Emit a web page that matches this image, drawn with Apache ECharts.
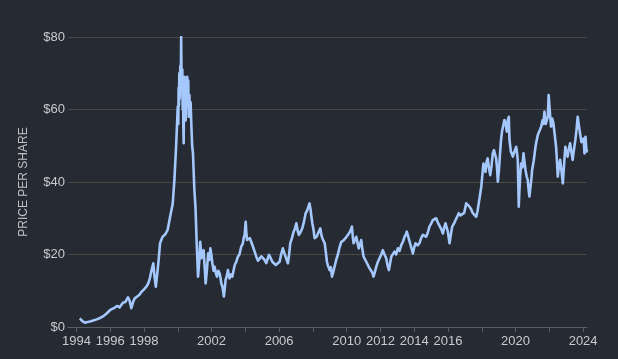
<!DOCTYPE html>
<html>
<head>
<meta charset="utf-8">
<script src="https://cdn.jsdelivr.net/npm/echarts@6/dist/echarts.min.js"></script>
<style>
html,body{margin:0;padding:0;background:#252a33;}
#chart{width:618px;height:359px;}
</style>
</head>
<body>
<div id="chart"></div>
<script>
// Decimal-year dates and prices
const dates = [
1994.20,1994.35,1994.50,1994.65,1994.80,1995.00,1995.20,1995.40,1995.60,1995.80,
1996.00,1996.10,1996.25,1996.40,1996.55,1996.75,1996.90,1997.05,1997.15,1997.25,
1997.35,1997.45,1997.60,1997.75,1997.85,1998.00,1998.15,1998.25,1998.35,1998.45,
1998.55,1998.62,1998.70,1998.78,1998.85,1998.95,1999.10,1999.25,1999.40,1999.55,
1999.70,1999.80,1999.90,
2000.00,2000.03,2000.05,2000.07,2000.09,2000.12,2000.15,2000.18,2000.20,2000.22,
2000.24,2000.27,2000.29,2000.31,2000.33,2000.35,2000.37,2000.40,2000.42,2000.45,
2000.47,2000.50,2000.53,2000.56,2000.59,2000.62,2000.65,2000.69,2000.72,2000.76,
2000.80,2000.85,2000.90,2000.98,2001.05,2001.12,2001.20,2001.27,2001.33,
2001.40,2001.45,2001.53,2001.60,2001.65,2001.72,2001.80,2001.88,2001.93,2002.00,
2002.05,2002.12,2002.18,2002.25,2002.32,2002.40,2002.48,2002.53,2002.58,2002.65,
2002.73,2002.78,2002.83,2002.90,2002.97,2003.02,2003.07,2003.15,2003.23,2003.30,
2003.37,2003.45,2003.56,2003.65,2003.76,2003.85,2003.90,2003.96,2004.02,2004.06,
2004.10,2004.20,2004.27,2004.35,2004.45,2004.55,2004.65,2004.75,2004.85,2004.95,
2005.04,2005.14,2005.24,2005.32,2005.40,2005.50,2005.60,2005.70,2005.80,2005.90,
2006.03,2006.12,2006.22,2006.30,2006.38,2006.45,2006.52,2006.58,2006.66,2006.76,
2006.86,2006.94,2007.02,2007.10,2007.17,2007.27,2007.37,2007.47,2007.57,2007.65,
2007.70,2007.80,2007.86,2007.90,2007.97,2008.04,2008.10,2008.16,2008.23,2008.30,
2008.37,2008.44,2008.50,2008.56,2008.63,2008.70,2008.77,2008.83,2008.90,2008.99,
2009.06,2009.13,2009.20,2009.28,2009.38,2009.48,2009.58,2009.68,2009.80,2009.93,
2010.03,2010.13,2010.22,2010.31,2010.36,2010.41,2010.48,2010.57,2010.65,2010.72,
2010.80,2010.86,2010.93,2011.00,2011.08,2011.16,2011.24,2011.31,2011.38,2011.46,
2011.52,2011.59,2011.66,2011.75,2011.85,2011.95,2012.05,2012.14,2012.24,2012.34,
2012.42,2012.50,2012.57,2012.64,2012.73,2012.83,2012.93,2013.03,2013.13,2013.23,
2013.33,2013.43,2013.50,2013.56,2013.64,2013.72,2013.82,2013.92,2014.00,2014.08,
2014.20,2014.31,2014.41,2014.51,2014.61,2014.71,2014.80,2014.90,2015.00,2015.10,
2015.20,2015.30,2015.40,2015.50,2015.60,2015.70,2015.78,2015.85,2015.92,2015.99,
2016.09,2016.17,2016.25,2016.35,2016.45,2016.55,2016.64,2016.74,2016.84,2016.96,
2017.08,2017.17,2017.27,2017.37,2017.47,2017.57,2017.67,2017.75,2017.82,2017.90,
2017.97,2018.06,2018.10,2018.16,2018.22,2018.28,2018.35,2018.42,2018.50,2018.58,
2018.65,2018.72,2018.80,2018.85,2018.90,2018.95,2019.02,2019.08,2019.14,2019.20,
2019.30,2019.34,2019.42,2019.48,2019.54,2019.60,2019.64,2019.72,2019.84,2019.94,
2020.04,2020.10,2020.13,2020.16,2020.19,2020.23,2020.28,2020.33,2020.40,2020.47,
2020.53,2020.59,2020.66,2020.72,2020.77,2020.82,2020.88,2020.94,2020.98,2021.08,
2021.18,2021.25,2021.32,2021.42,2021.52,2021.60,2021.65,2021.71,2021.78,2021.85,
2021.91,2021.96,2022.02,2022.10,2022.17,2022.24,2022.32,2022.40,2022.46,2022.50,
2022.57,2022.64,2022.72,2022.80,2022.86,2022.92,2022.95,2023.02,2023.08,2023.15,
2023.23,2023.30,2023.38,2023.46,2023.54,2023.60,2023.68,2023.75,2023.82,2023.90,
2023.97,2024.03,2024.08,2024.14,2024.20,2024.24
];
const prices = [
2.4,1.6,1.2,1.4,1.5,1.8,2.1,2.5,3.0,3.8,
4.7,4.2,5.3,5.8,5.4,6.7,6.9,8.2,7.2,5.2,
6.8,7.9,8.4,9.0,9.7,10.4,11.2,12.0,13.5,15.7,
17.6,14.0,11.1,14.5,17.6,23.1,24.9,25.5,26.8,30.5,
34.0,40.6,49.7,
60.8,56.0,66.0,61.0,70.0,63.0,72.0,68.0,80.0,70.0,
66.0,71.0,60.0,67.0,55.0,50.7,64.0,69.0,60.0,66.0,
57.0,68.0,61.0,69.0,62.0,68.0,58.0,64.0,58.0,62.0,
56.2,50.0,47.9,38.0,33.0,23.1,13.9,18.0,23.5,
19.0,18.5,21.2,16.0,12.0,15.5,20.3,18.5,21.7,19.5,
17.6,15.5,16.6,15.0,13.9,15.5,14.8,13.5,12.0,11.0,
8.4,10.5,13.0,14.0,15.7,14.2,13.4,14.5,13.9,15.5,
17.1,17.8,19.4,20.0,22.2,23.0,24.5,25.5,29.0,26.0,
24.0,23.5,24.5,24.7,22.2,20.8,19.4,18.3,18.0,19.5,
19.0,18.5,17.6,18.8,19.9,19.0,18.0,17.5,17.1,17.6,
18.0,20.0,21.7,20.5,19.4,18.5,17.6,19.5,23.1,24.5,
26.3,27.2,28.6,26.5,25.4,26.2,27.2,29.0,31.4,32.0,
32.7,34.1,32.5,30.9,28.5,26.8,24.5,24.0,25.0,25.8,
26.5,27.2,25.5,24.5,23.8,23.1,20.5,18.0,16.8,15.7,
16.5,13.9,15.0,16.6,18.5,20.0,22.0,23.5,23.8,24.5,
25.0,25.8,26.5,27.7,25.0,23.1,24.0,24.9,23.0,21.7,
23.0,24.0,21.5,19.4,19.5,18.0,17.5,16.6,16.0,15.7,
15.0,13.9,15.0,16.6,18.0,19.0,20.0,21.2,20.0,19.0,
17.0,15.7,17.5,19.4,19.0,20.8,20.0,21.7,21.0,22.6,
23.5,24.9,25.5,26.3,25.0,24.5,22.0,20.3,22.0,23.1,
22.5,23.1,24.5,25.4,25.0,24.9,26.0,27.7,28.5,29.5,
29.0,30.0,28.8,29.0,27.0,25.8,27.5,28.6,27.5,26.3,
23.1,25.5,27.7,28.5,29.5,30.5,31.4,30.8,30.4,31.5,
34.1,34.1,33.2,32.5,31.4,31.4,30.4,32.0,34.1,36.5,
38.7,43.3,45.1,44.0,42.8,45.5,46.5,44.0,41.9,44.5,
47.9,48.8,49.3,46.5,44.0,40.1,43.5,47.9,51.6,54.0,
56.2,57.1,56.0,53.9,57.0,58.0,51.6,48.5,47.0,48.5,
49.7,47.5,46.1,40.0,33.2,38.0,42.0,45.1,44.0,47.9,
45.5,43.3,41.5,40.6,38.0,36.0,38.5,41.0,43.3,46.0,
49.7,51.5,53.0,53.5,55.3,57.0,56.0,59.4,56.0,56.2,
58.0,64.0,60.0,55.3,57.5,56.2,53.0,49.7,45.0,41.5,
44.5,46.1,43.0,39.6,44.0,48.0,49.7,48.0,47.0,49.0,
50.7,48.5,46.1,49.0,51.6,54.0,58.0,55.5,53.4,51.0,
50.5,52.0,47.9,52.5,48.4,49.0
];
const xTickYears = [1994,1996,1998,2000,2002,2004,2006,2008,2010,2012,2014,2016,2018,2020,2022,2024];
const xLabelYears = [1994,1996,1998,2002,2006,2010,2012,2014,2016,2020,2024];
const yTicks = [0,20,40,60,80];

const seriesData = dates.map((d, i) => [d, prices[i]]);
const chart = echarts.init(document.getElementById('chart'), null, {renderer: 'canvas'});
const labelFont = 'Liberation Sans';
chart.setOption({
  backgroundColor: '#252a33',
  animation: false,
  grid: {left: 68, right: 31, top: 37, bottom: 32, containLabel: false},
  xAxis: {
    type: 'value',
    min: 1993.5,
    max: 2024.23,
    axisLine: {show: true, lineStyle: {color: '#5a5d62', width: 1}},
    axisTick: {show: true, customValues: xTickYears, length: 5, lineStyle: {color: '#5a5d62'}},
    axisLabel: {
      customValues: xLabelYears,
      color: '#c9cacc', fontSize: 13, fontFamily: labelFont, margin: 8,
      formatter: v => String(Math.round(v))
    },
    splitLine: {show: false}
  },
  yAxis: {
    type: 'value',
    min: yTicks[0],
    max: yTicks[yTicks.length - 1],
    interval: 20,
    name: 'PRICE PER SHARE',
    nameLocation: 'middle',
    nameGap: 38,
    nameRotate: 90,
    nameTextStyle: {color: '#c2c3c6', fontSize: 12, fontFamily: labelFont},
    axisLine: {show: false},
    axisTick: {show: false},
    axisLabel: {color: '#c9cacc', fontSize: 13, fontFamily: labelFont, margin: 3, formatter: v => '$' + v},
    splitLine: {show: true, lineStyle: {color: '#4a4845', width: 1}}
  },
  series: [{
    type: 'line',
    data: seriesData,
    showSymbol: false,
    smooth: false,
    lineStyle: {color: '#a4c7fc', width: 2.6, join: 'round'},
    itemStyle: {color: '#a4c7fc'}
  }]
});
</script>
</body>
</html>
